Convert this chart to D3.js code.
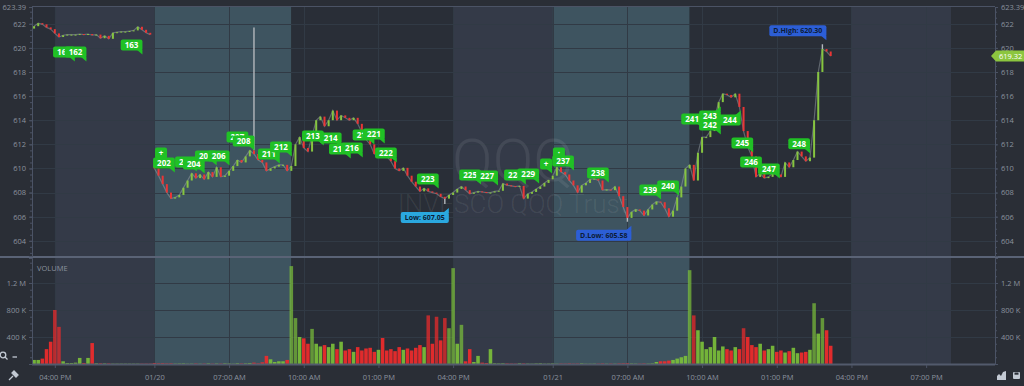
<!DOCTYPE html>
<html>
<head>
<meta charset="utf-8">
<script src="https://cdn.jsdelivr.net/npm/d3@7"></script>
<style>
  body { margin: 0; background: #2a2e36; }
  svg { display: block; font-family: "Open Sans", sans-serif; }
</style>
</head>
<body>
<svg width="1024" height="386"></svg>
<script>
// ---- data (10 minute bars) ----
const barMinutes = 10;
const viewFrom = [0, "15:05"], viewTo = [2, "21:46"];
const priceRange = [602.74, 623.39];
const volMax = 1570; // thousands

const firstOpen = [621.6, 610.3, 609.1];

const closeD0 = [621.8, 622.05, 621.95, 621.7, 621.55, 621.2, 620.9, 621.05, 621.1, 621.1,
  621.1, 621.15, 621.1, 621.15, 621.05, 621.1, 620.8, 621.0, 620.75, 621.25,
  621.3, 621.35, 621.35, 621.4, 621.45, 621.75, 621.5, 621.25, 621.1];
const volD0 = [60, 60, 80, 220, 330, 800, 550, 40, 15, 15, 20, 90, 15, 90, 310, 10, 10, 8, 8, 5,
  5, 5, 5, 5, 5, 5, 5, 5, 5];

const closeD1 = [610.0, 609.4, 608.7, 608.0, 607.5, 607.6, 607.8, 608.4, 609.0, 609.6,
  609.2, 609.5, 609.1, 609.7, 609.3, 610.1, 609.3, 609.4, 609.8, 610.2,
  610.7, 610.5, 611.0, 611.5, 611.2, 610.7, 610.5, 609.8, 610.0, 610.15,
  610.3, 610.3, 609.8, 610.2, 612.0, 612.6, 611.7, 611.4, 612.7, 614.0,
  614.3, 613.5, 614.0, 614.8, 614.0, 614.4, 614.2, 614.0, 614.2, 613.7,
  613.0, 612.4, 612.0, 611.2, 611.5, 611.3, 611.0, 610.6, 610.0, 609.8,
  610.05, 609.4, 608.9, 608.5, 608.1, 608.35, 608.1, 608.0, 607.9, 607.65,
  607.5, 607.8, 608.0, 608.3, 608.5, 608.2, 607.9, 608.0, 608.1, 608.05,
  608.0, 608.0, 608.1, 608.15, 608.75, 608.6, 608.55, 608.5, 608.55, 607.5,
  607.9, 608.05, 608.3, 608.5, 608.8, 609.05];
const volD1 = [15, 10, 12, 8, 10, 6, 8, 10, 5, 6,
  8, 5, 6, 10, 5, 8, 6, 10, 8, 5,
  12, 8, 10, 15, 20, 10, 25, 120, 70, 30,
  40, 40, 60, 1450, 680, 400, 380, 300, 520, 300,
  260, 280, 250, 300, 220, 330, 200, 220, 180, 250,
  200, 230, 240, 180, 210, 385, 200, 220, 190, 250,
  210, 230, 200, 240, 280, 250, 720, 300, 700, 350,
  680, 530, 1420, 300, 580, 40, 220, 30, 120, 20,
  15, 220, 10, 8, 10, 8, 6, 5, 10, 8,
  6, 5, 8, 10, 5, 6];

const closeD2 = [609.4, 610.1, 609.7, 609.5, 609.0, 608.6, 608.0, 608.6, 608.8, 609.1,
  609.15, 609.0, 608.2, 608.25, 608.2, 608.5, 607.7, 606.8, 605.9, 606.4,
  606.6, 606.5, 606.1, 606.6, 607.0, 607.25, 607.2, 606.7, 606.0, 606.5,
  607.6, 608.5, 610.0, 610.3, 609.0, 611.3, 612.6, 612.6, 613.1, 614.2,
  615.5, 616.2, 616.1, 615.9, 616.2, 615.1, 613.1, 611.8, 611.0, 609.3,
  609.6, 609.2, 609.3, 609.6, 609.5, 609.3, 610.5, 610.1, 610.7, 611.4,
  611.0, 610.6, 610.9, 614.0, 618.0, 619.9, 619.7, 619.32];
const volD2 = [8, 5, 6, 5, 8, 5, 6, 10, 5, 5,
  6, 5, 8, 5, 6, 5, 8, 10, 12, 8,
  6, 5, 8, 6, 10, 30, 40, 40, 50, 60,
  80, 100, 120, 1390, 720, 500, 330, 220, 250, 400,
  200, 260, 220, 200, 250, 220, 530, 400, 280, 250,
  300, 200, 220, 270, 180, 200, 170, 190, 240, 160,
  170, 180, 210, 900, 450, 680, 500, 270];

// wick extremes: [day, bar index, price]
const wickExtremes = [[1, 24, 621.7], [1, 70, 607.05], [2, 18, 605.58], [2, 65, 620.30]];

// session shading per day
const sessionParts = [["pre", "04:00", "09:30"], ["reg", "09:30", "16:00"], ["post", "16:00", "20:00"]];
const sessionColor = {pre: "#3e5460", reg: "#292e37", post: "#343a48"};

const priceTicks = [604, 606, 608, 610, 612, 614, 616, 618, 620, 622];
const volTicks = [400, 800, 1200];
const timeTicks = [[0, "16:00", "04:00 PM"], [1, "04:00", "01/20"], [1, "07:00", "07:00 AM"],
  [1, "10:00", "10:00 AM"], [1, "13:00", "01:00 PM"], [1, "16:00", "04:00 PM"],
  [2, "04:00", "01/21"], [2, "07:00", "07:00 AM"], [2, "10:00", "10:00 AM"],
  [2, "13:00", "01:00 PM"], [2, "16:00", "04:00 PM"], [2, "19:00", "07:00 PM"]];

// trade markers: [text, day, time, price, tail]
const tradeMarks = [
  ["161", 0, "16:22", 619.66], ["162", 0, "16:50", 619.66], ["163", 0, "19:05", 620.24],
  ["+", 1, "04:16", 611.28], ["202", 1, "04:23", 610.46], ["203", 1, "05:16", 610.54],
  ["204", 1, "05:35", 610.37], ["205", 1, "06:04", 611.03], ["206", 1, "06:35", 611.03],
  ["207", 1, "07:20", 612.61], ["208", 1, "07:35", 612.28], ["211", 1, "08:36", 611.20],
  ["212", 1, "09:05", 611.78], ["213", 1, "10:22", 612.69], ["214", 1, "11:05", 612.53],
  ["215", 1, "11:27", 611.62], ["216", 1, "11:56", 611.70], ["217", 1, "12:24", 612.78],
  ["221", 1, "12:49", 612.86], ["222", 1, "13:18", 611.28], ["223", 1, "14:59", 609.13],
  ["225", 1, "16:41", 609.46], ["227", 1, "17:22", 609.38], ["228", 1, "18:29", 609.46],
  ["229", 1, "19:01", 609.54], ["+", 1, "19:44", 610.37], ["·", 2, "04:15", 611.28],
  ["237", 2, "04:25", 610.62], ["238", 2, "05:49", 609.63], ["239", 2, "07:55", 608.22],
  ["240", 2, "08:38", 608.55], ["241", 2, "09:36", 614.10], ["242", 2, "10:19", 613.60],
  ["243", 2, "10:19", 614.35, "up"], ["244", 2, "11:07", 614.02, "up"], ["245", 2, "11:37", 612.11],
  ["246", 2, "11:58", 610.54], ["247", 2, "12:41", 609.96], ["248", 2, "13:54", 612.04]
];

// extreme labels: [text, day, bar index, price, side, colour]
const extremeLabels = [
  ["Low: 607.05", 1, 70, 607.05, "below", "#2aa8df"],
  ["D.Low: 605.58", 2, 18, 605.58, "below", "#2c5ed6"],
  ["D.High: 620.30", 2, 65, 620.30, "above", "#2c5ed6"]
];
const lastPrice = 619.32;

// ---- layout ----
const svg = d3.select("svg");
const plot = {l: 32, r: 995, top: 7, priceBot: 256, volTop: 258, volBot: 364};
const axisColor = "#4b5365", textColor = "#8a929e", gridColor = "#313a45";
const axisFont = "7.5px";

const toHour = (day, hm) => {
  const [h, m] = hm.split(":").map(Number);
  return day * 16 - 12 + h + m / 60 - 4;
};

const x = d3.scaleLinear()
  .domain([toHour(...viewFrom), toHour(...viewTo)])
  .range([plot.l, plot.r]);
const y = d3.scaleLinear().domain(priceRange).range([plot.priceBot, plot.top]);
const yv = d3.scaleLinear().domain([0, volMax]).range([plot.volBot, plot.volTop]);

// bars
const days = [
  {day: 0, start: "15:10", close: closeD0, vol: volD0},
  {day: 1, start: "04:00", close: closeD1, vol: volD1},
  {day: 2, start: "04:00", close: closeD2, vol: volD2}
];
const bars = [];
days.forEach((d, k) => {
  const t0 = toHour(d.day, d.start);
  d.close.forEach((c, i) => {
    const o = i ? d.close[i - 1] : firstOpen[k];
    bars.push({day: d.day, i, t: t0 + i * barMinutes / 60, o, c, v: d.vol[i]});
  });
});
const barAt = (day, i) => bars.find(b => b.day === day && b.i === i);
const barW = x(barMinutes / 60) - x(0);

svg.append("rect").attr("width", 1024).attr("height", 386).attr("fill", "#2a2e36");

svg.append("clipPath").attr("id", "plotClip")
  .append("rect")
  .attr("x", plot.l).attr("y", plot.top)
  .attr("width", plot.r - plot.l).attr("height", plot.volBot - plot.top);

const inner = svg.append("g").attr("clip-path", "url(#plotClip)");

// session bands
[0, 1, 2].forEach(day => {
  sessionParts.forEach(([kind, a, b]) => {
    const x0 = x(toHour(day, a)), x1 = x(toHour(day, b));
    inner.append("rect")
      .attr("x", x0).attr("y", plot.top)
      .attr("width", x1 - x0).attr("height", plot.volBot - plot.top)
      .attr("fill", sessionColor[kind]);
  });
});

// grid
const grid = inner.append("g").attr("stroke", gridColor).attr("stroke-width", 1);
priceTicks.forEach(v => {
  grid.append("line").attr("x1", plot.l).attr("x2", plot.r)
    .attr("y1", Math.round(y(v)) + 0.5).attr("y2", Math.round(y(v)) + 0.5);
});
volTicks.forEach(v => {
  grid.append("line").attr("x1", plot.l).attr("x2", plot.r)
    .attr("y1", Math.round(yv(v)) + 0.5).attr("y2", Math.round(yv(v)) + 0.5);
});
timeTicks.forEach(d => {
  const xx = Math.round(x(toHour(d[0], d[1]))) + 0.5;
  grid.append("line").attr("x1", xx).attr("x2", xx).attr("y1", plot.top).attr("y2", plot.volBot);
});

// watermark
inner.append("text")
  .attr("x", 513).attr("y", 181)
  .attr("text-anchor", "middle")
  .style("font-family", "Roboto, sans-serif").style("font-weight", 300)
  .style("font-size", "60px")
  .attr("fill", "#ffffff").attr("fill-opacity", 0.08)
  .text("QQQ");
inner.append("text")
  .attr("x", 513).attr("y", 213)
  .attr("text-anchor", "middle")
  .style("font-family", "Roboto, sans-serif").style("font-weight", 300)
  .style("font-size", "26px")
  .attr("fill", "#ffffff").attr("fill-opacity", 0.08)
  .text("INVESCO QQQ Trust");

// volume
const upColor = "#86c540", downColor = "#ea3636";
inner.append("g").selectAll("rect")
  .data(bars)
  .join("rect")
  .attr("x", d => x(d.t) - barW / 2 + 0.3)
  .attr("width", barW - 0.6)
  .attr("y", d => yv(d.v))
  .attr("height", d => plot.volBot - yv(d.v))
  .attr("fill", d => d.c >= d.o ? "#7cc23a" : "#f42b2b")
  .attr("fill-opacity", d => d.v > 500 ? 0.7 : 0.9);

// price: wicks line, extremes, bodies
const line = d3.line().x(d => x(d.t)).y(d => y(d.c));
days.forEach(d => {
  inner.append("path")
    .datum(bars.filter(b => b.day === d.day))
    .attr("d", line)
    .attr("fill", "none")
    .attr("stroke", "#9aa1a8")
    .attr("stroke-opacity", 0.5)
    .attr("stroke-width", 1.2);
});
wickExtremes.forEach(([day, i, p]) => {
  const b = barAt(day, i);
  const edge = p > b.c ? Math.max(b.o, b.c) : Math.min(b.o, b.c);
  inner.append("line")
    .attr("x1", x(b.t)).attr("x2", x(b.t))
    .attr("y1", y(edge)).attr("y2", y(p))
    .attr("stroke", "#b4b8bd").attr("stroke-width", 1.4);
});
inner.append("g").selectAll("rect")
  .data(bars)
  .join("rect")
  .attr("x", d => x(d.t) - 1)
  .attr("width", 2)
  .attr("y", d => y(Math.max(d.o, d.c)))
  .attr("height", d => Math.max(1, Math.abs(y(d.o) - y(d.c))))
  .attr("fill", d => d.c >= d.o ? upColor : downColor);

// callouts
function callout(g, txt, opts) {
  const grp = g.append("g");
  const t = grp.append("text")
    .attr("text-anchor", "middle")
    .style("font-size", opts.size + "px")
    .style("font-weight", 700)
    .attr("fill", opts.color)
    .text(txt);
  const w = opts.width || t.node().getComputedTextLength() + 8;
  const h = 11;
  const cx = opts.cx !== undefined ? opts.cx : opts.tipX - w / 2 + 1;
  const cy = opts.cy !== undefined ? opts.cy
    : (opts.tail === "up" ? opts.tipY + 4 + h / 2 : opts.tipY - 4 - h / 2);
  const l = cx - w / 2, r = cx + w / 2, top = cy - h / 2, bot = cy + h / 2;
  t.attr("x", cx).attr("y", cy + opts.size * 0.36);
  const tail = opts.tail === "up"
    ? `M${r - 6},${top + 1}L${r},${top + 1}L${r},${top - 4}Z`
    : `M${r - 6},${bot - 1}L${r},${bot - 1}L${r},${bot + 4}Z`;
  grp.insert("path", "text").attr("d", tail).attr("fill", opts.fill);
  grp.insert("rect", "text")
    .attr("x", l).attr("y", top).attr("width", w).attr("height", h)
    .attr("rx", 2).attr("fill", opts.fill);
}

const marks = inner.append("g");
tradeMarks.forEach(([txt, day, hm, p, tail]) => {
  callout(marks, txt, {
    cx: x(toHour(day, hm)), cy: y(p), size: 8, color: "#ffffff", fill: "#20c125",
    tail: tail || "down", width: txt.length === 1 ? 12 : undefined
  });
});
extremeLabels.forEach(([txt, day, i, p, side, fill]) => {
  const b = barAt(day, i);
  callout(marks, txt, {
    tipX: x(b.t) + 3, tipY: y(p) + (side === "below" ? 4 : -4),
    tail: side === "below" ? "up" : "down",
    size: 7, color: "#0c1c36", fill
  });
});

// borders
svg.append("line").attr("x1", plot.l).attr("x2", plot.r).attr("y1", plot.top - 0.5).attr("y2", plot.top - 0.5)
  .attr("stroke", axisColor);
svg.append("line").attr("x1", 0).attr("x2", 1024).attr("y1", 257).attr("y2", 257)
  .attr("stroke", "#5a6376").attr("stroke-width", 2);
svg.append("line").attr("x1", plot.l).attr("x2", plot.r).attr("y1", plot.volBot + 0.5).attr("y2", plot.volBot + 0.5)
  .attr("stroke", "#525a6c").attr("stroke-width", 2);

// axes
function styleAxis(g) {
  g.select(".domain").attr("stroke", axisColor);
  g.selectAll(".tick line").attr("stroke", axisColor);
  g.selectAll(".tick text").attr("fill", textColor).style("font-size", axisFont)
    .style("font-family", "'Open Sans', sans-serif");
}
const minorPrice = d3.range(603, 623.4, 0.5);
const minorVol = d3.range(100, 1570, 100);
const priceFmt = d => d === priceRange[1] ? d.toFixed(2) : d;

[["axisLeft", plot.l], ["axisRight", plot.r]].forEach(([fn, xx]) => {
  svg.append("g").attr("transform", `translate(${xx},0)`)
    .call(d3[fn](y).tickValues(minorPrice).tickSize(2).tickFormat(""))
    .call(styleAxis);
  svg.append("g").attr("transform", `translate(${xx},0)`)
    .call(d3[fn](y).tickValues(priceTicks.concat([priceRange[1]])).tickSize(3).tickPadding(3)
      .tickFormat(priceFmt))
    .call(styleAxis);
});

const volFmt = d => d >= 1000 ? (d / 1000) + " M" : d + " K";
[["axisLeft", plot.l], ["axisRight", plot.r]].forEach(([fn, xx]) => {
  svg.append("g").attr("transform", `translate(${xx},0)`)
    .call(d3[fn](yv).tickValues(minorVol).tickSize(2).tickFormat(""))
    .call(styleAxis);
  svg.append("g").attr("transform", `translate(${xx},0)`)
    .call(d3[fn](yv).tickValues(volTicks).tickSize(3).tickPadding(3).tickFormat(volFmt))
    .call(styleAxis);
});

svg.append("g").attr("transform", `translate(0,${plot.volBot + 1})`)
  .call(d3.axisBottom(x)
    .tickValues(timeTicks.map(d => toHour(d[0], d[1])))
    .tickFormat((d, i) => timeTicks[i][2])
    .tickSize(3).tickPadding(7))
  .call(styleAxis)
  .call(g => g.select(".domain").remove());

// VOLUME caption
svg.append("text").attr("x", plot.l + 5).attr("y", 271)
  .attr("fill", textColor).style("font-size", "7.5px").text("VOLUME");

// last price tag
const ly = y(lastPrice);
svg.append("path")
  .attr("d", `M${plot.r - 4},${ly}L${plot.r + 1},${ly - 5.5}H1024V${ly + 5.5}H${plot.r + 1}Z`)
  .attr("fill", "#8cc63f");
svg.append("text").attr("x", 999).attr("y", ly + 2.7)
  .attr("fill", "#ffffff").style("font-size", "7.5px").text(lastPrice.toFixed(2));

// toolbar icons
const ic = svg.append("g").attr("stroke", "#c3cad4").attr("fill", "none").attr("stroke-width", 1.3);
ic.append("circle").attr("cx", 3).attr("cy", 355).attr("r", 2.8);
ic.append("line").attr("x1", 5).attr("y1", 357).attr("x2", 7.5).attr("y2", 359.5);
ic.append("line").attr("x1", 12.5).attr("y1", 357).attr("x2", 17).attr("y2", 357);
ic.append("line").attr("x1", 9).attr("y1", 380).attr("x2", 13).attr("y2", 376);
ic.append("path").attr("d", "M12,373L16,377L18,375L14,371Z").attr("fill", "#c3cad4");
const ic2 = svg.append("g").attr("fill", "#c3cad4");
ic2.append("path").attr("d", "M997,380V376L999,374L1001,376L1003,372L1006,371V380Z");
ic2.append("rect").attr("x", 1013).attr("y", 372).attr("width", 7).attr("height", 7).attr("rx", 1);
ic2.append("rect").attr("x", 1014.5).attr("y", 372.5).attr("width", 4).attr("height", 2.2).attr("fill", "#2a2e36");
</script>
</body>
</html>
